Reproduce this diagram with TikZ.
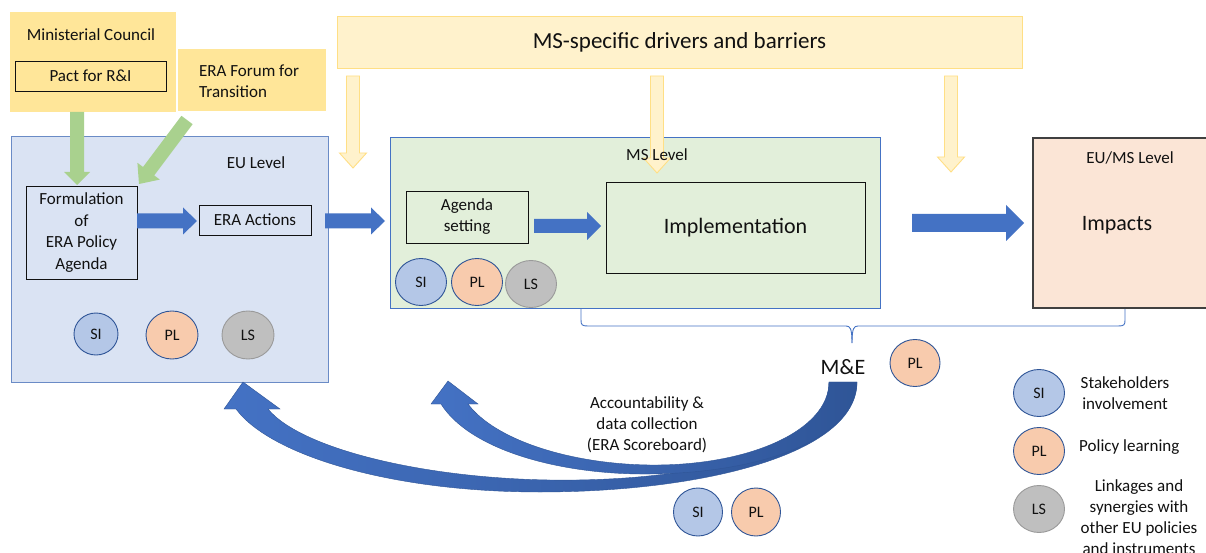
\documentclass[tikz,border=0pt]{standalone}
\usepackage{fontspec}
\setmainfont{Carlito}
\usetikzlibrary{shapes.geometric,calc}

\definecolor{gold}{HTML}{FFE699}
\definecolor{paleyel}{HTML}{FFF2CC}
\definecolor{yelline}{HTML}{FFDF85}
\definecolor{leaf}{HTML}{A9D18E}
\definecolor{eufill}{HTML}{DAE3F3}
\definecolor{euline}{HTML}{6A8BC6}
\definecolor{msfill}{HTML}{E2EFDA}
\definecolor{msline}{HTML}{4472C4}
\definecolor{impfill}{HTML}{FBE5D6}
\definecolor{impline}{HTML}{404040}
\definecolor{flow}{HTML}{4472C4}
\definecolor{flowdark}{HTML}{2F5597}
\definecolor{sifill}{HTML}{B4C7E7}
\definecolor{plfill}{HTML}{F8CBAD}
\definecolor{lsfill}{HTML}{BFBFBF}
\definecolor{lsline}{HTML}{9A9A9A}
\definecolor{ink}{HTML}{111111}

% block arrow: style, tail, tip, half shaft, half head, head length
\newcommand{\blockarrow}[6]{%
  \coordinate (arrowneck) at ($(#3)!#6pt!(#2)$);
  \path[#1] ($(#2)!#4pt!90:(#3)$) -- ($(arrowneck)!#4pt!90:(#3)$)
    -- ($(arrowneck)!#5pt!90:(#3)$) -- (#3)
    -- ($(arrowneck)!#5pt!-90:(#3)$) -- ($(arrowneck)!#4pt!-90:(#3)$)
    -- ($(#2)!#4pt!-90:(#3)$) -- cycle;}

\begin{document}
\begin{tikzpicture}[x=1pt,y=-1pt,
  txt/.style={font=\fontsize{17}{21}\selectfont, text=ink, inner sep=0pt, align=center},
  bigtxt/.style={font=\fontsize{22}{26}\selectfont, text=ink, inner sep=0pt, align=center},
  rbox/.style={rectangle, inner sep=0pt, outer sep=0pt, anchor=north west},
  framed/.style={rbox, draw=ink, line width=0.9pt},
  blob/.style={ellipse, inner sep=0pt, line width=0.9pt, font=\fontsize{16}{18}\selectfont, text=ink},
  sinode/.style={blob, fill=sifill, draw=flowdark},
  plnode/.style={blob, fill=plfill, draw=flowdark},
  lsnode/.style={blob, fill=lsfill, draw=lsline},
  greenarr/.style={fill=leaf},
  bluearr/.style={fill=flow},
  yelarr/.style={fill=paleyel, draw=yelline, line width=0.9pt},
  curl/.style={left color=flow, middle color=flow, right color=flowdark, draw=flowdark, line width=0.4pt},
  bracket/.style={draw=msline, line width=0.9pt}
]
\useasboundingbox (0,0) rectangle (1206,553);
\fill[white] (0,0) rectangle (1206,553);
\clip (0,0) rectangle (1206,553);

% ---- top-left sources
\node[rbox, fill=gold, minimum width=166, minimum height=100] (minc) at (10,12) {};
\node[txt] (minct) at (91,35) {Ministerial Council};
\node[framed, fill=gold, minimum width=151, minimum height=30] (pact) at (15,61) {};
\node[txt] (pactt) at (pact.center) {Pact for R\&I};
\node[rbox, fill=gold, minimum width=148, minimum height=62] (forum) at (178,49) {};
\node[txt, align=left, anchor=west] (forumt) at (199,81) {ERA Forum for\\Transition};

% ---- top band
\node[rbox, fill=paleyel, draw=yelline, line width=0.9pt, minimum width=685, minimum height=52] (band) at (337,16) {};
\node[bigtxt, font=\fontsize{23}{27}\selectfont] (bandt) at (band.center) {MS-specific drivers and barriers};

% ---- EU level
\node[rbox, fill=eufill, draw=euline, line width=1pt, minimum width=317, minimum height=245] (eu) at (11,137) {};
\node[txt] (eut) at (256,163) {EU Level};
\node[framed, minimum width=111, minimum height=93] (form) at (26,186) {};
\node[txt, font=\fontsize{17}{21.5}\selectfont] (formt) at (form.center) {Formulation\\of\\ERA Policy\\Agenda};
\node[framed, minimum width=112, minimum height=30] (acts) at (199,205) {};
\node[txt] (actst) at (acts.center) {ERA Actions};
\node[sinode, minimum width=44, minimum height=42] (eusi) at (96,334) {SI};
\node[plnode, minimum width=52, minimum height=48] (eupl) at (172,335) {PL};
\node[lsnode, minimum width=52, minimum height=48] (euls) at (248,335) {LS};

% ---- MS level
\node[rbox, fill=msfill, draw=msline, line width=1pt, minimum width=490, minimum height=170] (ms) at (390,138) {};
\node[framed, minimum width=122, minimum height=52] (agenda) at (406,191) {};
\node[txt] (agendat) at (agenda.center) {Agenda\\setting};
\node[framed, minimum width=259, minimum height=91] (impl) at (606,182) {};
\node[bigtxt] (implt) at (impl.center) {Implementation};
\node[sinode, minimum width=51, minimum height=47] (mssi) at (421,282) {SI};
\node[plnode, minimum width=51, minimum height=47] (mspl) at (477,282) {PL};
\node[lsnode, minimum width=51, minimum height=47] (msls) at (531,284) {LS};

% ---- impacts
\node[rbox, fill=impfill, draw=impline, line width=1.2pt, minimum width=190, minimum height=170] (imp) at (1033,138) {};
\node[txt] (impl1) at (1130,158) {EU/MS Level};
\node[bigtxt] (impt) at (1117,225) {Impacts};

% ---- green feeds
\coordinate (g1a) at (minc.south -| 77,0);
\coordinate (g1b) at (77,185);
\blockarrow{greenarr}{g1a}{g1b}{7}{13}{13}
\coordinate (g2a) at (187,120);
\coordinate (g2b) at (139,184);
\blockarrow{greenarr}{g2a}{g2b}{7}{14}{16}

% ---- driver arrows
\coordinate (y1a) at (353,76);  \coordinate (y1b) at (353,168);
\coordinate (y2a) at (657,76);  \coordinate (y2b) at (657,173);
\coordinate (y3a) at (951,76);  \coordinate (y3b) at (951,172);
\blockarrow{yelarr}{y1a}{y1b}{6.5}{13.5}{15}
\blockarrow{yelarr}{y2a}{y2b}{6.5}{13.5}{15}
\blockarrow{yelarr}{y3a}{y3b}{6.5}{13.5}{15}
\node[txt] (mst) at (657,155) {MS Level};

% ---- process flow
\coordinate (f1a) at (form.east |- 0,221);   \coordinate (f1b) at (197,221);
\blockarrow{bluearr}{f1a}{f1b}{7.5}{13.5}{14}
\coordinate (f2a) at (325,221);   \coordinate (f2b) at (385,221);
\blockarrow{bluearr}{f2a}{f2b}{7.5}{13.5}{14}
\coordinate (f3a) at (534,226);   \coordinate (f3b) at (601,226);
\blockarrow{bluearr}{f3a}{f3b}{7}{14}{14}
\coordinate (f4a) at (912,223);   \coordinate (f4b) at (1024,223);
\blockarrow{bluearr}{f4a}{f4b}{9}{18}{18}

% ---- monitoring bracket
\coordinate (br1) at (581,309);
\coordinate (br2) at (1125,309);
\coordinate (brtip) at (852,343);
\draw[bracket] (br1) -- (581,320) .. controls (581,325) and (582,326) .. (588,326)
  -- (846,326) .. controls (850,326) and (852,328) .. (brtip);
\draw[bracket] (br2) -- (1125,320) .. controls (1125,325) and (1124,326) .. (1118,326)
  -- (858,326) .. controls (854,326) and (852,328) .. (brtip);
\node[bigtxt] (me) at (843,367) {M\&E};
\node[plnode, minimum width=50, minimum height=47] (mepl) at (915,363) {PL};

% ---- feedback loops from M&E
\coordinate (tipeu) at (243,382);
\coordinate (tipms) at (448,381);
\path[curl] (857,382) .. controls (857,455) and (700,492) .. (540,492)
  .. controls (390,492) and (270,455) .. (236,409) -- (224,409) -- (tipeu)
  -- (280,409) -- (268,409) .. controls (300,448) and (420,478) .. (550,480)
  .. controls (700,482) and (829,450) .. (829,382) -- cycle;
\path[curl] (857,382) .. controls (855,440) and (760,473) .. (650,474)
  .. controls (560,475) and (470,450) .. (441,404) -- (431,404) -- (tipms)
  -- (478,404) -- (468,404) .. controls (495,440) and (570,464) .. (650,465)
  .. controls (750,466) and (829,430) .. (829,382) -- cycle;
\node[txt] (acc) at (647,425) {Accountability \&\\data collection\\(ERA Scoreboard)};
\node[sinode, minimum width=49, minimum height=48] (botsi) at (698,512) {SI};
\node[plnode, minimum width=49, minimum height=48] (botpl) at (756,512) {PL};

% ---- legend
\node[sinode, minimum width=51, minimum height=47] (lgsi) at (1039,393) {SI};
\node[plnode, minimum width=51, minimum height=47] (lgpl) at (1039,451) {PL};
\node[lsnode, minimum width=51, minimum height=47] (lgls) at (1039,509) {LS};
\node[txt] (lgsit) at (1125,393) {Stakeholders\\involvement};
\node[txt, anchor=west] (lgplt) at (1079,447) {Policy learning};
\node[txt] (lglst) at (1139,517.5) {Linkages and\\synergies with\\other EU policies\\and instruments};
\end{tikzpicture}
\end{document}
